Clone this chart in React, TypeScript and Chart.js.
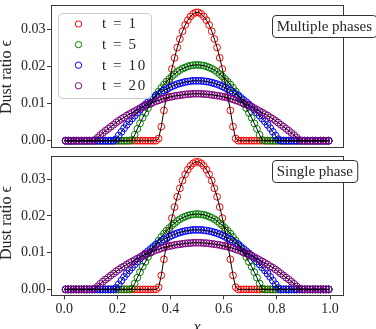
import React, { useEffect, useRef } from 'react';
import { Chart, registerables } from 'chart.js';

Chart.register(...registerables);

// ---------- data ----------
const XS = [
  0.005, 0.015, 0.025, 0.035, 0.045, 0.055, 0.065, 0.075, 0.085, 0.095,
  0.105, 0.115, 0.125, 0.135, 0.145, 0.155, 0.165, 0.175, 0.185, 0.195,
  0.205, 0.215, 0.225, 0.235, 0.245, 0.255, 0.265, 0.275, 0.285, 0.295,
  0.305, 0.315, 0.325, 0.335, 0.345, 0.355, 0.365, 0.375, 0.385, 0.395,
  0.405, 0.415, 0.425, 0.435, 0.445, 0.455, 0.465, 0.475, 0.485, 0.495,
  0.505, 0.515, 0.525, 0.535, 0.545, 0.555, 0.565, 0.575, 0.585, 0.595,
  0.605, 0.615, 0.625, 0.635, 0.645, 0.655, 0.665, 0.675, 0.685, 0.695,
  0.705, 0.715, 0.725, 0.735, 0.745, 0.755, 0.765, 0.775, 0.785, 0.795,
  0.805, 0.815, 0.825, 0.835, 0.845, 0.855, 0.865, 0.875, 0.885, 0.895,
  0.905, 0.915, 0.925, 0.935, 0.945, 0.955, 0.965, 0.975, 0.985, 0.995,
];

const EPS_T1 = [
  0, 0, 0, 0, 0, 0, 0, 0, 0, 0,
  0, 0, 0, 0, 0, 0, 0, 0, 0, 0,
  0, 0, 0, 0, 0, 0, 0, 0, 0, 0,
  0, 0, 0, 0, 0, 0.0006, 0.0038, 0.0082, 0.0122, 0.0160,
  0.0194, 0.0224, 0.0252, 0.0275, 0.0296, 0.0313, 0.0326, 0.0336, 0.0343, 0.0347,
  0.0347, 0.0343, 0.0336, 0.0326, 0.0313, 0.0296, 0.0275, 0.0252, 0.0224, 0.0194,
  0.0160, 0.0122, 0.0082, 0.0038, 0.0006, 0, 0, 0, 0, 0,
  0, 0, 0, 0, 0, 0, 0, 0, 0, 0,
  0, 0, 0, 0, 0, 0, 0, 0, 0, 0,
  0, 0, 0, 0, 0, 0, 0, 0, 0, 0,
];

const EPS_T5 = [
  0, 0, 0, 0, 0, 0, 0, 0, 0, 0,
  0, 0, 0, 0, 0, 0, 0, 0, 0, 0,
  0, 0, 0, 0, 0, 0.0002, 0.0016, 0.0032, 0.0047, 0.0062,
  0.0075, 0.0088, 0.0100, 0.0112, 0.0123, 0.0133, 0.0143, 0.0152, 0.0160, 0.0167,
  0.0174, 0.0180, 0.0186, 0.0191, 0.0195, 0.0198, 0.0201, 0.0203, 0.0204, 0.0205,
  0.0205, 0.0204, 0.0203, 0.0201, 0.0198, 0.0195, 0.0191, 0.0186, 0.0180, 0.0174,
  0.0167, 0.0160, 0.0152, 0.0143, 0.0133, 0.0123, 0.0112, 0.0100, 0.0088, 0.0075,
  0.0062, 0.0047, 0.0032, 0.0016, 0.0002, 0, 0, 0, 0, 0,
  0, 0, 0, 0, 0, 0, 0, 0, 0, 0,
  0, 0, 0, 0, 0, 0, 0, 0, 0, 0,
];

const EPS_T10 = [
  0, 0, 0, 0, 0, 0, 0, 0, 0, 0,
  0, 0, 0, 0, 0, 0, 0, 0, 0, 0.0004,
  0.0014, 0.0024, 0.0034, 0.0043, 0.0052, 0.0060, 0.0068, 0.0076, 0.0084, 0.0091,
  0.0098, 0.0104, 0.0110, 0.0116, 0.0121, 0.0126, 0.0131, 0.0136, 0.0140, 0.0143,
  0.0147, 0.0150, 0.0153, 0.0155, 0.0157, 0.0159, 0.0160, 0.0161, 0.0162, 0.0162,
  0.0162, 0.0162, 0.0161, 0.0160, 0.0159, 0.0157, 0.0155, 0.0153, 0.0150, 0.0147,
  0.0143, 0.0140, 0.0136, 0.0131, 0.0126, 0.0121, 0.0116, 0.0110, 0.0104, 0.0098,
  0.0091, 0.0084, 0.0076, 0.0068, 0.0060, 0.0052, 0.0043, 0.0034, 0.0024, 0.0014,
  0.0004, 0, 0, 0, 0, 0, 0, 0, 0, 0,
  0, 0, 0, 0, 0, 0, 0, 0, 0, 0,
];

const EPS_T20 = [
  0, 0, 0, 0, 0, 0, 0, 0, 0, 0,
  0, 0.0002, 0.0008, 0.0015, 0.0021, 0.0027, 0.0032, 0.0038, 0.0043, 0.0049,
  0.0054, 0.0059, 0.0063, 0.0068, 0.0072, 0.0076, 0.0080, 0.0084, 0.0088, 0.0092,
  0.0095, 0.0098, 0.0101, 0.0104, 0.0107, 0.0109, 0.0112, 0.0114, 0.0116, 0.0118,
  0.0119, 0.0121, 0.0122, 0.0123, 0.0124, 0.0125, 0.0126, 0.0126, 0.0127, 0.0127,
  0.0127, 0.0127, 0.0126, 0.0126, 0.0125, 0.0124, 0.0123, 0.0122, 0.0121, 0.0119,
  0.0118, 0.0116, 0.0114, 0.0112, 0.0109, 0.0107, 0.0104, 0.0101, 0.0098, 0.0095,
  0.0092, 0.0088, 0.0084, 0.0080, 0.0076, 0.0072, 0.0068, 0.0063, 0.0059, 0.0054,
  0.0049, 0.0043, 0.0038, 0.0032, 0.0027, 0.0021, 0.0015, 0.0008, 0.0002, 0,
  0, 0, 0, 0, 0, 0, 0, 0, 0, 0,
];

const SERIES_VALUES = [EPS_T1, EPS_T5, EPS_T10, EPS_T20];
const SERIES_LABELS = ['t = 1', 't = 5', 't = 10', 't = 20'];
const SERIES_COLORS = ['#ff0000', '#008000', '#0000ff', '#800080'];
const X_TICKS = [0, 0.2, 0.4, 0.6, 0.8, 1.0];
const Y_TICKS = [0, 0.01, 0.02, 0.03];
const PANEL_NOTES = ['Multiple phases', 'Single phase'];
const Y_TITLE = 'Dust ratio \u03f5';
const X_TITLE = 'x';

// ---------- style ----------
const FONT = '"Liberation Serif", "Times New Roman", serif';
const INK = '#262626';
const FRAME = '#3a3a3a';

type Panel = {
  canvasH: number;
  padTop: number;
  padBottom: number;
  xAxisH: number;
  showX: boolean;
  yMin: number;
  yMax: number;
  note: string;
  noteTop: number;
  legend: boolean;
  yLabelY: number;
};

const PANELS: Panel[] = [
  { canvasH: 152, padTop: 5, padBottom: 1, xAxisH: 0, showX: false, yMin: -0.0017, yMax: 0.0367, note: PANEL_NOTES[0], noteTop: 15, legend: true, yLabelY: 77 },
  { canvasH: 178, padTop: 0, padBottom: 0, xAxisH: 33.7, showX: true, yMin: -0.0016, yMax: 0.0363, note: PANEL_NOTES[1], noteTop: 9.7, legend: false, yLabelY: 72 },
];

function buildChart(canvas: HTMLCanvasElement, panel: Panel) {
  const markerSets = SERIES_VALUES.map((vals, k) => ({
    type: 'line' as const,
    label: SERIES_LABELS[k],
    data: XS.map((x, i) => ({ x, y: vals[i] })),
    showLine: false,
    pointStyle: 'circle' as const,
    pointRadius: 3.4,
    pointBorderWidth: 1,
    pointBorderColor: SERIES_COLORS[k],
    pointBackgroundColor: 'rgba(0,0,0,0)',
    borderColor: SERIES_COLORS[k],
    backgroundColor: 'rgba(0,0,0,0)',
    order: 10 - k,
  }));
  const lineSets = SERIES_VALUES.map((vals) => ({
    type: 'line' as const,
    label: '',
    data: XS.map((x, i) => ({ x, y: vals[i] })),
    borderColor: '#000000',
    borderWidth: 1,
    pointRadius: 0,
    tension: 0,
    fill: false,
    order: 0,
  }));

  const overlay = {
    id: 'overlay',
    afterDatasetsDraw(chart: any) {
      const ctx = chart.ctx;
      const a = chart.chartArea;
      ctx.save();
      ctx.strokeStyle = FRAME;
      ctx.lineWidth = 1;
      const l = Math.floor(a.left) + 0.5;
      const t = Math.floor(a.top) + 0.5;
      const r = Math.floor(a.right) + 0.5;
      const b = Math.floor(a.bottom) + 0.5;
      ctx.strokeRect(l, t, r - l, b - t);
      ctx.restore();
    },
    afterDraw(chart: any) {
      const ctx = chart.ctx;
      // y title
      ctx.save();
      ctx.translate(7, panel.yLabelY);
      ctx.rotate(-Math.PI / 2);
      ctx.font = `16px ${FONT}`;
      ctx.fillStyle = INK;
      ctx.textAlign = 'center';
      ctx.textBaseline = 'middle';
      ctx.fillText(Y_TITLE, 0, 0);
      ctx.restore();

      // x title
      if (panel.showX) {
        ctx.save();
        ctx.font = `italic 16px ${FONT}`;
        ctx.fillStyle = INK;
        ctx.textAlign = 'center';
        ctx.textBaseline = 'alphabetic';
        ctx.fillText(X_TITLE, chart.scales.x.getPixelForValue(0.5), 181);
        ctx.restore();
      }

      // legend
      if (panel.legend) {
        ctx.save();
        ctx.beginPath();
        ctx.roundRect(58.5, 13.5, 93, 85, 4);
        ctx.fillStyle = 'rgba(255,255,255,0.8)';
        ctx.fill();
        ctx.strokeStyle = '#cccccc';
        ctx.lineWidth = 1;
        ctx.stroke();
        ctx.font = `15px ${FONT}`;
        (ctx as any).letterSpacing = '1.6px';
        ctx.textAlign = 'left';
        ctx.textBaseline = 'middle';
        SERIES_LABELS.forEach((lab, k) => {
          const y = 24 + 20.6 * k;
          ctx.beginPath();
          ctx.arc(78.5, y, 3.2, 0, Math.PI * 2);
          ctx.strokeStyle = SERIES_COLORS[k];
          ctx.lineWidth = 1;
          ctx.stroke();
          ctx.fillStyle = INK;
          ctx.fillText(lab, 102, y + 0.5);
        });
        ctx.restore();
      }

      // note box
      ctx.save();
      ctx.font = `15px ${FONT}`;
      const w = ctx.measureText(panel.note).width;
      const bx = 272.5;
      const by = Math.floor(panel.noteTop) + 0.5;
      const bh = 22;
      ctx.beginPath();
      ctx.roundRect(bx, by, w + 9, bh, 3.5);
      ctx.fillStyle = '#ffffff';
      ctx.fill();
      ctx.strokeStyle = '#333333';
      ctx.lineWidth = 1;
      ctx.stroke();
      ctx.fillStyle = INK;
      ctx.textAlign = 'left';
      ctx.textBaseline = 'middle';
      ctx.fillText(panel.note, bx + 4.2, by + bh / 2 + 0.5);
      ctx.restore();
    },
  };

  return new Chart(canvas, {
    type: 'line',
    data: { datasets: [...lineSets, ...markerSets] as any },
    options: {
      animation: false,
      responsive: false,
      maintainAspectRatio: false,
      devicePixelRatio: 1,
      events: [],
      layout: { padding: { left: 0, top: panel.padTop, right: 32.7, bottom: panel.padBottom } },
      plugins: { legend: { display: false }, tooltip: { enabled: false } },
      scales: {
        x: {
          type: 'linear',
          min: -0.05,
          max: 1.05,
          display: panel.showX,
          afterBuildTicks: (s: any) => { s.ticks = X_TICKS.map((v) => ({ value: v })); },
          afterFit: (s: any) => { s.height = panel.xAxisH; s.paddingLeft = 0; s.paddingRight = 0; },
          grid: { drawOnChartArea: false, drawTicks: true, tickLength: 4, color: FRAME, lineWidth: 1 },
          border: { display: false },
          ticks: {
            autoSkip: false,
            maxRotation: 0,
            padding: 2,
            color: INK,
            font: { family: FONT, size: 14 },
            callback: (v: any) => Number(v).toFixed(1),
          },
        },
        y: {
          type: 'linear',
          min: panel.yMin,
          max: panel.yMax,
          afterBuildTicks: (s: any) => { s.ticks = Y_TICKS.map((v) => ({ value: v })); },
          afterFit: (s: any) => { s.width = 51; s.paddingTop = 0; s.paddingBottom = 0; },
          grid: { drawOnChartArea: false, drawTicks: true, tickLength: 4, color: FRAME, lineWidth: 1 },
          border: { display: false },
          ticks: {
            padding: 1.5,
            color: INK,
            font: { family: FONT, size: 14 },
            callback: (v: any) => Number(v).toFixed(2),
          },
        },
      },
    } as any,
    plugins: [overlay],
  });
}

export default function App() {
  const topRef = useRef<HTMLCanvasElement | null>(null);
  const botRef = useRef<HTMLCanvasElement | null>(null);

  useEffect(() => {
    const charts: Chart[] = [];
    if (topRef.current) charts.push(buildChart(topRef.current, PANELS[0]));
    if (botRef.current) charts.push(buildChart(botRef.current, PANELS[1]));
    return () => charts.forEach((c) => c.destroy());
  }, []);

  return (
    <div style={{ position: 'fixed', left: 0, top: 0, width: 376, height: 329, background: '#ffffff', overflow: 'hidden' }}>
      <canvas ref={topRef} width={376} height={PANELS[0].canvasH}
        style={{ position: 'absolute', left: 0, top: 0, width: 376, height: PANELS[0].canvasH }} />
      <canvas ref={botRef} width={376} height={PANELS[1].canvasH}
        style={{ position: 'absolute', left: 0, top: 151, width: 376, height: PANELS[1].canvasH }} />
    </div>
  );
}
